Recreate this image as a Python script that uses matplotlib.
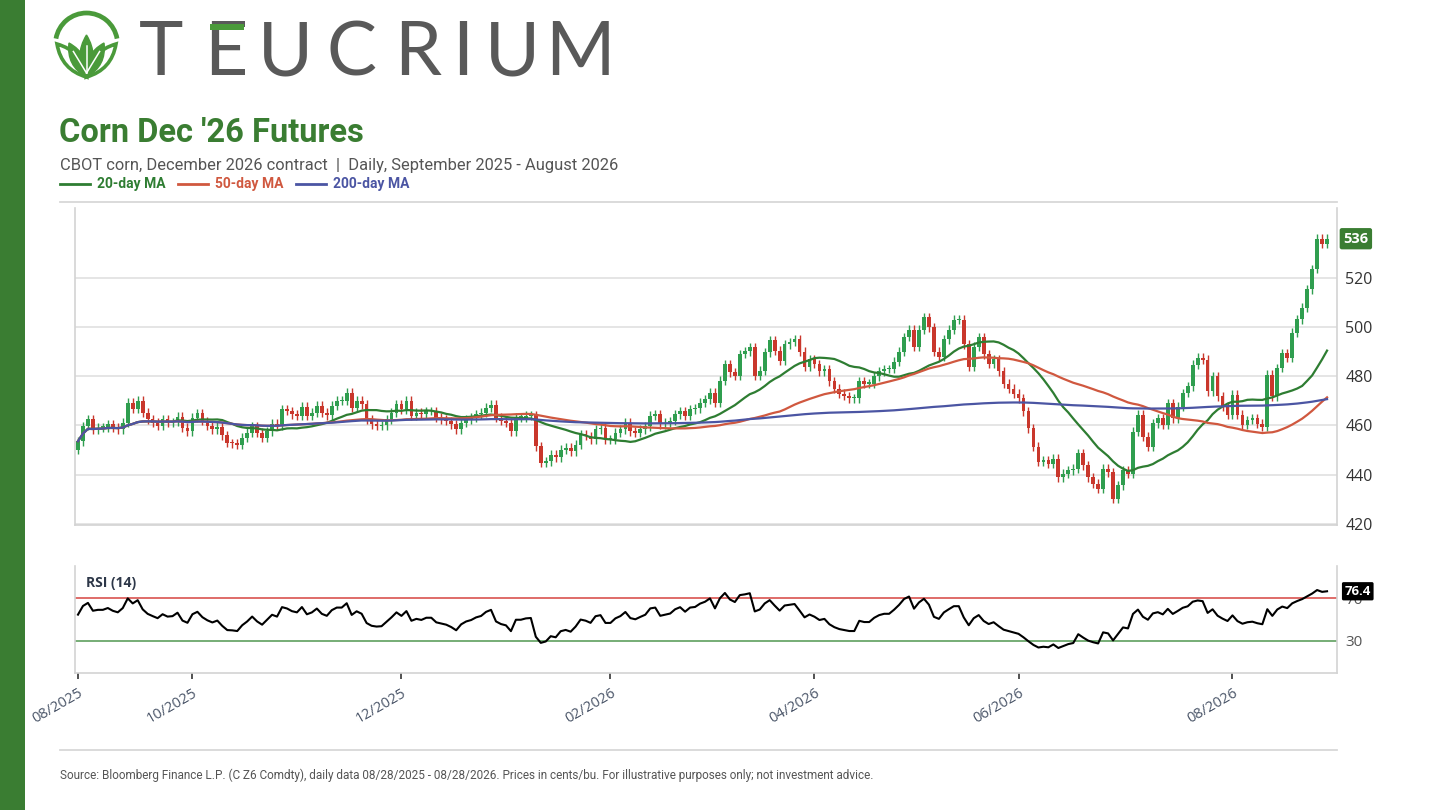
#!/usr/bin/env python3
import matplotlib

matplotlib.use("Agg")
import matplotlib.pyplot as plt
import numpy as np
import pandas as pd
from matplotlib.lines import Line2D
from matplotlib.patches import Arc, PathPatch, Rectangle
from matplotlib.path import Path

W, H = 1441, 810

# CBOT holidays inside the window (no trading)
HOLIDAYS = [
    "2025-09-01", "2025-11-27", "2025-12-25", "2026-01-01", "2026-01-19",
    "2026-02-16", "2026-04-03", "2026-05-25", "2026-06-19", "2026-07-03",
]
START, END = "2025-08-28", "2026-08-28"

# daily closes, cents/bu
CLOSE = [
    453.6, 459.8, 462.5, 458.4, 459.1, 459.1, 460.4, 459.1, 458.4, 461.1,
    469.3, 466.9, 470.0, 465.2, 462.5, 461.1, 459.8, 462.5, 461.1, 461.4,
    463.6, 459.1, 457.7, 463.2, 465.0, 461.8, 459.8, 458.4, 459.5, 456.0,
    452.9, 452.7, 452.2, 455.0, 457.0, 459.8, 457.0, 455.0, 457.7, 460.8,
    459.8, 466.6, 465.9, 464.5, 463.9, 467.7, 463.9,
    465.2, 468.0, 465.2, 464.1, 468.0, 470.0, 470.0, 473.4, 467.3, 470.0,
    468.6, 462.5, 460.4, 459.8, 460.0, 462.5, 465.2, 468.6, 466.6, 470.0,
    463.9, 465.2, 464.5, 465.9, 465.9, 463.2, 462.5, 461.8, 460.4, 458.4,
    461.1, 462.5, 463.2, 464.5, 465.2, 467.3, 468.4, 463.2, 461.8, 461.1,
    457.7, 463.2, 463.2, 463.9, 464.1, 451.6, 444.7,
    445.4, 448.1, 447.0, 450.2, 450.9, 449.5, 452.2, 456.4, 455.7, 454.3,
    458.4, 459.1, 454.3, 454.3, 457.0, 458.4, 461.1, 457.7, 457.0, 458.4,
    459.7, 463.9, 464.5, 460.4, 461.1, 461.8, 464.5, 465.9, 463.9, 466.6,
    467.0, 469.3, 470.7, 473.4, 469.3, 478.2, 485.0, 481.6, 480.2, 489.1,
    490.2, 491.9, 480.2, 482.3, 489.8, 494.6, 490.5, 486.4,
    493.0, 494.0, 495.0, 490.0, 484.0, 487.0, 485.0, 482.0, 483.0, 478.0,
    475.0, 473.0, 472.0, 471.0, 471.0, 478.0, 477.0, 477.0, 480.0, 482.0,
    483.0, 483.0, 486.0, 490.0, 496.0, 499.0, 492.0, 499.0, 504.0, 500.0,
    490.0, 488.0, 495.0, 499.0, 503.0, 503.0, 493.0, 484.0, 492.0, 496.0,
    489.0, 485.0, 487.0, 482.0, 477.0, 475.0, 473.0, 471.0,
    465.7, 458.8, 451.3, 445.2, 445.8, 444.5, 446.5, 439.0, 440.4, 441.7,
    442.4, 448.6, 443.8, 439.0, 436.3, 434.2, 442.4, 441.0, 430.1, 435.6,
    441.7, 440.4, 457.5, 464.3, 455.4, 451.3, 460.9, 462.9, 460.2, 469.1,
    462.9, 467.7, 473.2, 475.9, 484.8, 487.5, 486.8, 473.9, 480.0, 471.8,
    467.7, 464.3,
    472.5, 464.3, 460.2, 462.2, 462.9, 460.8, 459.5, 480.7, 471.8, 483.4,
    489.5, 487.5, 497.7, 503.2, 508.0, 515.5, 523.7, 536.0, 534.0, 536.0,
]
FIRST_OPEN = 450.2
MA_WINDOWS = [20, 50, 200]
MA_LABELS = ["20-day MA", "50-day MA", "200-day MA"]
PRICE_TICKS = [420, 440, 460, 480, 500, 520]
RSI_LEVELS = [70, 30]
TICK_MONTHS = ["2025-10", "2025-12", "2026-02", "2026-04", "2026-06", "2026-08"]

FOOTER = ("Source: Bloomberg Finance L.P. (C Z6 Comdty), daily data 08/28/2025 - 08/28/2026. "
          "Prices in cents/bu. For illustrative purposes only; not investment advice.")

GREEN = "#3a7d32"
LEAF = "#4a9a3a"
UP, DOWN = "#2f9e4f", "#c9372c"
MA_COLORS = ["#2e7d32", "#d0583f", "#4b55a3"]
GRAY_TXT = "#555555"
GRID = "#dedede"
WICK = 1.8
SANS = ["Roboto", "DejaVu Sans"]
NUMF = ["Open Sans", "DejaVu Sans"]


def px(x0, y0, x1, y1):
    """pixel box (y down) -> figure rect"""
    return [x0 / W, 1 - y1 / H, (x1 - x0) / W, (y1 - y0) / H]


def wilder_rsi(close, n=14, seed_gain=1.2, seed_loss=1.0):
    out = np.full(len(close), np.nan)
    ag, al = seed_gain, seed_loss
    out[0] = 100 - 100 / (1 + ag / al)
    for i in range(1, len(close)):
        d = close[i] - close[i - 1]
        ag = (ag * (n - 1) + max(d, 0)) / n
        al = (al * (n - 1) + max(-d, 0)) / n
        out[i] = 100 - 100 / (1 + ag / al)
    return out


def leaf(base, tip, half_w):
    b, t = np.array(base, float), np.array(tip, float)
    mid = (b + t) / 2
    d = t - b
    perp = np.array([-d[1], d[0]]) / np.hypot(*d) * half_w * 2
    verts = [b, mid + perp, t, mid - perp, b, b]
    codes = [Path.MOVETO, Path.CURVE3, Path.CURVE3, Path.CURVE3, Path.CURVE3, Path.CLOSEPOLY]
    return Path(verts, codes)


def draw_header(bg):
    bg.add_patch(Rectangle((0, 0), 25, H, color=GREEN, lw=0))

    # leaf mark
    cx, cy = 86.5, 44
    bg.add_patch(Arc((cx, cy), 62, 62, theta1=190, theta2=350, color=LEAF, lw=3.4))
    base = (cx, 77)
    for tip, w in [((57, 44), 7), ((116, 44), 7)]:
        bg.add_patch(PathPatch(leaf(base, tip, w), fc="white", ec=LEAF, lw=2.6))
    for tip, w in [((69, 43), 6.5), ((104, 43), 6.5), ((cx, 35), 6.5)]:
        bg.add_patch(PathPatch(leaf(base, tip, w), fc=LEAF, ec=LEAF, lw=1))
        bg.add_line(Line2D([base[0], tip[0] * 0.75 + base[0] * 0.25],
                           [base[1] - 4, tip[1] * 0.75 + base[1] * 0.25],
                           color="white", lw=1.1))

    letters = [("T", 161), ("E", 226), ("U", 285), ("C", 351), ("R", 418),
               ("I", 463), ("U", 512), ("M", 580)]
    for ch, x in letters:
        bg.text(x, 75, ch, fontsize=54, color="#595959", ha="center", va="baseline",
                family=["Lato", "DejaVu Sans"])
    bg.add_patch(Rectangle((210, 23.5), 34, 6.5, color=LEAF, lw=0, zorder=5))

    bg.text(59, 142, "Corn Dec '26 Futures", fontsize=23.5, fontweight="bold", color=GREEN,
            family=SANS, va="baseline")
    bg.text(60, 170, "CBOT corn, December 2026 contract  |  Daily, September 2025 - August 2026",
            fontsize=11.9, color=GRAY_TXT, family=SANS, va="baseline")
    x = 60
    for lab, col, w in zip(MA_LABELS, MA_COLORS, [118, 118, 120]):
        bg.add_line(Line2D([x, x + 30], [184, 184], color=col, lw=2))
        bg.text(x + 37, 184, lab, fontsize=10, fontweight="bold", color=col,
                family=SANS, va="center")
        x += w
    for y in (202, 750):
        bg.add_line(Line2D([60, 1337], [y, y], color="#d8d8d8", lw=1.3))
    bg.text(60, 775, FOOTER, fontsize=8.5, color=GRAY_TXT, family=SANS, va="center")


def style_panel(a):
    a.spines["top"].set_visible(False)
    for sp in ("left", "right", "bottom"):
        a.spines[sp].set_color("#d3d3d3")
        a.spines[sp].set_linewidth(1.2)
    a.yaxis.tick_right()


def main():
    days = pd.bdate_range(START, END)
    days = days[~days.isin(pd.to_datetime(HOLIDAYS))]
    close = np.array(CLOSE)
    assert len(days) == len(close)
    n = len(close)
    idx = np.arange(n)
    opn = np.r_[FIRST_OPEN, close[:-1]]
    top, bot = np.maximum(opn, close), np.minimum(opn, close)
    cols = np.where(close >= opn, UP, DOWN)
    s = pd.Series(close)
    mas = [s.rolling(w, min_periods=1).mean() for w in MA_WINDOWS]
    rsi = wilder_rsi(close)

    fig = plt.figure(figsize=(W / 100, H / 100), dpi=100)
    bg = fig.add_axes([0, 0, 1, 1])
    bg.set_xlim(0, W)
    bg.set_ylim(H, 0)
    bg.axis("off")
    draw_header(bg)

    xlim = (-0.6, 253.0)

    # price panel
    ax = fig.add_axes(px(75, 208, 1337, 525))
    ax.vlines(idx, bot - WICK, top + WICK, color=cols, lw=1, zorder=2)
    ax.bar(idx, np.maximum(top - bot, 0.5), bottom=bot, width=0.75, color=cols, lw=0, zorder=3)
    for m, c in zip(mas, MA_COLORS):
        ax.plot(idx, m, color=c, lw=1.6, zorder=4)
    ax.set_xlim(*xlim)
    ax.set_ylim(419.5, 548.5)
    ax.set_yticks(PRICE_TICKS)
    ax.set_xticks([])
    style_panel(ax)
    ax.tick_params(axis="y", length=0, pad=6, labelsize=11.5, labelcolor="#333333")
    ax.grid(axis="y", color=GRID, lw=1.1, zorder=0)
    for t in ax.get_yticklabels():
        t.set_family(NUMF)
    ax.annotate(f"{close[-1]:.0f}", xy=(1.005, close[-1]), xycoords=("axes fraction", "data"),
                ha="left", va="center", fontsize=10.5, fontweight="bold", color="white",
                family=NUMF,
                bbox=dict(boxstyle="round,pad=0.25,rounding_size=0.15", fc=GREEN, ec="none"))

    # RSI panel
    rx = fig.add_axes(px(75, 566, 1337, 673))
    rx.plot(idx, rsi, color="black", lw=1.5, zorder=3)
    rx.axhline(RSI_LEVELS[0], color="#d9534f", lw=1.2, zorder=2)
    rx.axhline(RSI_LEVELS[1], color="#5f9f5f", lw=1.2, zorder=2)
    rx.set_xlim(*xlim)
    rx.set_ylim(0, 100)
    rx.set_yticks(RSI_LEVELS)
    style_panel(rx)
    rx.tick_params(axis="y", length=0, pad=6, labelsize=11, labelcolor=GRAY_TXT)
    for t in rx.get_yticklabels():
        t.set_family(NUMF)
    rx.text(0.0085, 0.84, "RSI (14)", transform=rx.transAxes, fontsize=10, fontweight="bold",
            color="#2d3748", family=NUMF, va="center")
    rx.annotate(f"{rsi[-1]:.1f}", xy=(1.006, rsi[-1]), xycoords=("axes fraction", "data"),
                ha="left", va="center", fontsize=9.5, fontweight="bold", color="white",
                family=NUMF, zorder=10,
                bbox=dict(boxstyle="round,pad=0.2,rounding_size=0.12", fc="black", ec="none"))

    months = days.strftime("%Y-%m")
    ticks = [0] + [int(np.argmax(months == m)) for m in TICK_MONTHS]
    rx.set_xticks(ticks)
    rx.set_xticklabels([days[i].strftime("%m/%Y") for i in ticks], rotation=30,
                       ha="right", rotation_mode="anchor", fontsize=10.5, color="#4a5568",
                       family=NUMF)
    rx.tick_params(axis="x", length=4, width=1.2, color="#333333", pad=5)

    fig.savefig("out.png", dpi=100)
    plt.close(fig)


if __name__ == "__main__":
    main()
